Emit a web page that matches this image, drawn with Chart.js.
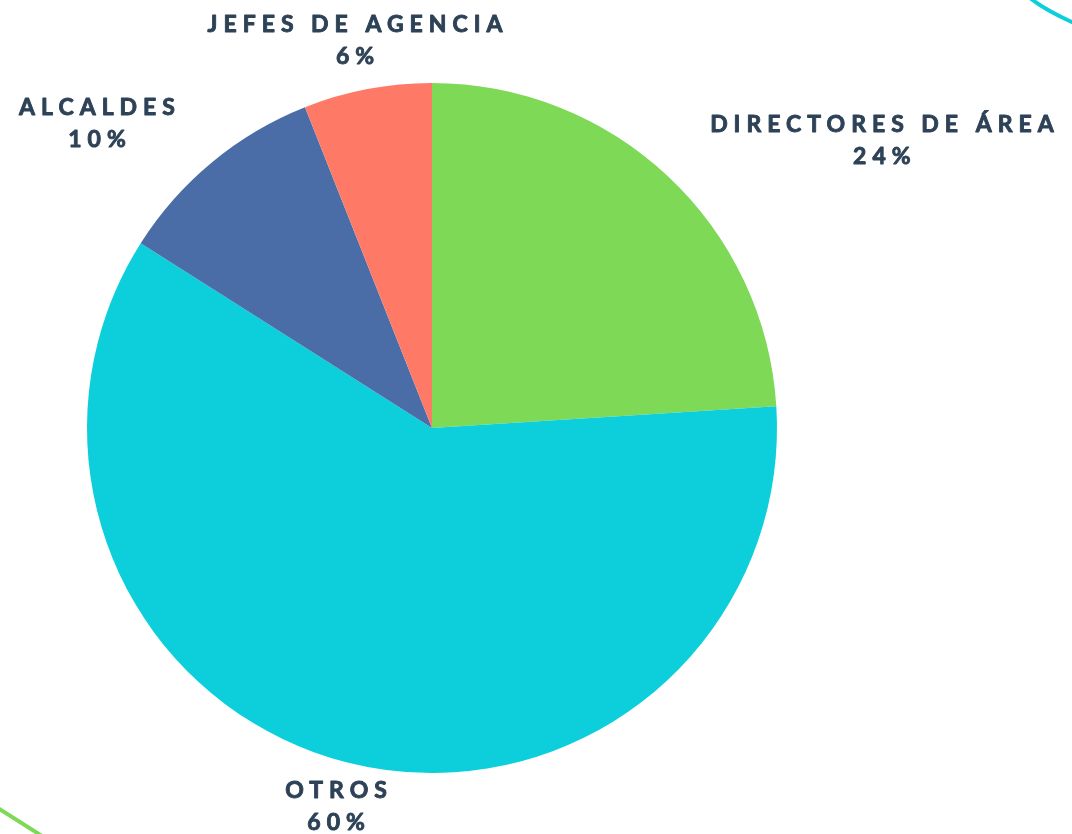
<!DOCTYPE html>
<html>
<head>
<meta charset="utf-8">
<script src="https://cdn.jsdelivr.net/npm/chart.js@4/dist/chart.umd.min.js"></script>
<style>
  html, body { margin: 0; padding: 0; background: #fff; }
  #wrap { width: 1072px; height: 834px; position: relative; }
</style>
</head>
<body>
<div id="wrap"><canvas id="pie"></canvas></div>
<script>
// data
let categories = ["DIRECTORES DE ÁREA", "OTROS", "ALCALDES", "JEFES DE AGENCIA"];
let shares = [24, 60, 10, 6];
let colors = ["#7ED957", "#0CCFDB", "#4A6DA7", "#FF7967"];

// where each label block sits, in units of the pie radius from its centre
let labelOffsets = [
  [1.304, -0.832],
  [-0.278, 1.096],
  [-0.971, -0.881],
  [-0.223, -1.122],
];

// decorative strokes in the corners
let decoPlugin = {
  id: "deco",
  beforeDraw: (chart) => {
    let ctx = chart.ctx;
    ctx.save();
    ctx.lineWidth = 4;
    ctx.lineCap = "round";
    ctx.strokeStyle = "#0CCFDB";
    ctx.beginPath();
    ctx.moveTo(1030, -2);
    ctx.quadraticCurveTo(1045, 10, 1074, 23);
    ctx.stroke();
    ctx.strokeStyle = "#7ED957";
    ctx.beginPath();
    ctx.moveTo(-2, 808);
    ctx.lineTo(42, 836);
    ctx.stroke();
    ctx.restore();
  },
};

// labels outside the pie
let labelPlugin = {
  id: "outLabels",
  afterDraw: (chart) => {
    let ctx = chart.ctx;
    let arcs = chart.getDatasetMeta(0).data;
    ctx.save();
    ctx.fillStyle = "#2E4257";
    ctx.strokeStyle = "#2E4257";
    ctx.lineWidth = 0.9;
    ctx.lineJoin = "round";
    ctx.textAlign = "center";
    ctx.textBaseline = "middle";
    ctx.font = "bold 23px Lato";
    ctx.letterSpacing = "6px";
    arcs.forEach((arc, i) => {
      let r = arc.outerRadius;
      let x = arc.x + labelOffsets[i][0] * r;
      let y = arc.y + labelOffsets[i][1] * r;
      // letterSpacing adds trailing space, shift back half of it
      let lines = [categories[i], shares[i] + "%"];
      lines.forEach((t, k) => {
        let ty = y + (k === 0 ? -16 : 16);
        ctx.fillText(t, x + 3, ty);
        ctx.strokeText(t, x + 3, ty);
      });
    });
    ctx.restore();
  },
};

new Chart(document.getElementById("pie"), {
  type: "pie",
  data: {
    labels: categories,
    datasets: [
      {
        data: shares,
        backgroundColor: colors,
        borderWidth: 0,
      },
    ],
  },
  options: {
    responsive: true,
    maintainAspectRatio: false,
    animation: false,
    layout: {
      padding: { left: 87, right: 295, top: 83, bottom: 61 },
    },
    plugins: {
      legend: { display: false },
      tooltip: { enabled: false },
    },
  },
  plugins: [decoPlugin, labelPlugin],
});
</script>
</body>
</html>
